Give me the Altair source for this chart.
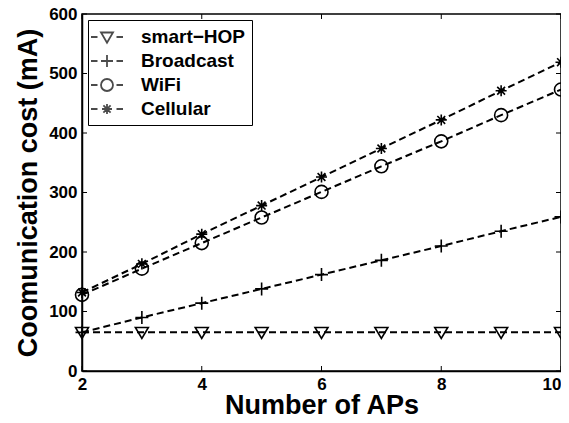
import altair as alt
import pandas as pd

aps = [2, 3, 4, 5, 6, 7, 8, 9, 10]
smart_hop = [65, 65, 65, 65, 65, 65, 65, 65, 65]
broadcast = [65, 90, 114, 138, 162, 186, 210, 235, 259]
wifi = [128, 172, 215, 258, 301, 344, 386, 430, 473]
cellular = [132, 180, 230, 278, 326, 374, 422, 471, 519]
series_names = ["smart\u2212HOP", "Broadcast", "WiFi", "Cellular"]
x_ticks = [2, 4, 6, 8, 10]
y_ticks = [0, 100, 200, 300, 400, 500, 600]

rows = []
for name, vals in zip(series_names, [smart_hop, broadcast, wifi, cellular]):
    for a, v in zip(aps, vals):
        rows.append({"series": name, "aps": a, "cost": v})
df = pd.DataFrame(rows)

W, H = 479, 357
FONT = "Liberation Sans"

marker_paths = [
    "M-1,-0.75L1,-0.75L0,0.95Z",
    "M-1,0L1,0M0,-1L0,1",
    "M1,0A1,1 0 1,1 -1,0A1,1 0 1,1 1,0Z",
    "M-0.85,0L0.85,0M0,-0.85L0,0.85M-0.6,-0.6L0.6,0.6M-0.6,0.6L0.6,-0.6",
]
# legend symbols: unit = 10px (symbolSize 400); dashes on both sides of the marker
legend_paths = [
    "M-1.4,0L-0.75,0M1.15,0L1.8,0M-0.4,-0.45L0.8,-0.45L0.2,0.58Z",
    "M-1.4,0L-0.75,0M1.15,0L1.8,0M-0.4,0L0.8,0M0.2,-0.6L0.2,0.6",
    "M-1.4,0L-0.75,0M1.15,0L1.8,0M0.8,0A0.6,0.6 0 1,1 -0.4,0A0.6,0.6 0 1,1 0.8,0Z",
    "M-1.4,0L-0.75,0M1.15,0L1.8,0M-0.3,0L0.7,0M0.2,-0.5L0.2,0.5M-0.16,-0.36L0.56,0.36M-0.16,0.36L0.56,-0.36",
]

xs = alt.Scale(domain=[2, 10], nice=False)
ys = alt.Scale(domain=[0, 600], nice=False)

base = alt.Chart(df)

lines = base.mark_line(color="black", strokeWidth=2, strokeDash=[7, 4]).encode(
    x=alt.X("aps:Q", scale=xs, title="Number of APs",
            axis=alt.Axis(values=x_ticks, format="d", tickSize=0, grid=False, domainColor="black",
                          labelFlush=False,
                          labelAlign=alt.ExprRef("datum.value == 10 ? 'right' : 'center'"),
                          labelFont=FONT, labelFontSize=17, labelFontWeight="bold",
                          labelColor="black", labelPadding=5,
                          titleFont=FONT, titleFontSize=27, titleFontWeight="bold",
                          titleColor="black", titlePadding=0)),
    y=alt.Y("cost:Q", scale=ys, title="Coomunication cost (mA)",
            axis=alt.Axis(values=y_ticks, tickSize=0, grid=False, domainColor="black",
                          labelFlush=False,
                          labelFont=FONT, labelFontSize=17, labelFontWeight="bold",
                          labelColor="black", labelPadding=5,
                          titleFont=FONT, titleFontSize=27, titleFontWeight="bold",
                          titleColor="black", titlePadding=6)),
    detail="series:N",
)

points = base.mark_point(filled=False, color="black", strokeWidth=1.6, size=169, opacity=1).encode(
    x=alt.X("aps:Q", scale=xs),
    y=alt.Y("cost:Q", scale=ys),
    shape=alt.Shape("series:N", sort=series_names,
                    scale=alt.Scale(domain=series_names, range=marker_paths), legend=None),
)

legend_layer = base.mark_point(filled=False, color="black", strokeWidth=1.8, size=0).encode(
    x=alt.X("aps:Q", scale=xs),
    y=alt.Y("cost:Q", scale=ys),
    shape=alt.Shape("series:N", sort=series_names,
                    scale=alt.Scale(domain=series_names, range=legend_paths),
                    legend=alt.Legend(title=None, orient="top-left", offset=6,
                                      symbolSize=400, symbolStrokeColor="black",
                                      symbolFillColor="transparent", symbolStrokeWidth=1.8,
                                      labelFont=FONT, labelFontSize=19, labelFontWeight="bold",
                                      labelColor="black", labelOffset=25,
                                      strokeColor="black", fillColor="white",
                                      padding=6, rowPadding=3)),
)

ytick_df = pd.DataFrame({"v": y_ticks})
xtick_df = pd.DataFrame({"v": x_ticks})
ytl = alt.Chart(ytick_df).mark_rule(color="black", strokeWidth=1).encode(
    y=alt.Y("v:Q", scale=ys), x=alt.value(0), x2=alt.value(5))
ytr = alt.Chart(ytick_df).mark_rule(color="black", strokeWidth=1).encode(
    y=alt.Y("v:Q", scale=ys), x=alt.value(W - 5), x2=alt.value(W))
xtb = alt.Chart(xtick_df).mark_rule(color="black", strokeWidth=1).encode(
    x=alt.X("v:Q", scale=xs), y=alt.value(H - 5), y2=alt.value(H))
xtt = alt.Chart(xtick_df).mark_rule(color="black", strokeWidth=1).encode(
    x=alt.X("v:Q", scale=xs), y=alt.value(0), y2=alt.value(5))

chart = alt.layer(ytl, ytr, xtb, xtt, lines, points, legend_layer).resolve_scale(
    shape="independent"
).properties(
    width=W, height=H, background="white",
    autosize=alt.AutoSizeParams(type="none"),
    padding={"left": 74, "top": 6, "right": 0, "bottom": 44},
).configure_view(
    stroke="black", strokeWidth=1.5
).configure_axis(domainWidth=1.5)

chart.save("out.html", embed_options={"renderer": "svg", "actions": False})
